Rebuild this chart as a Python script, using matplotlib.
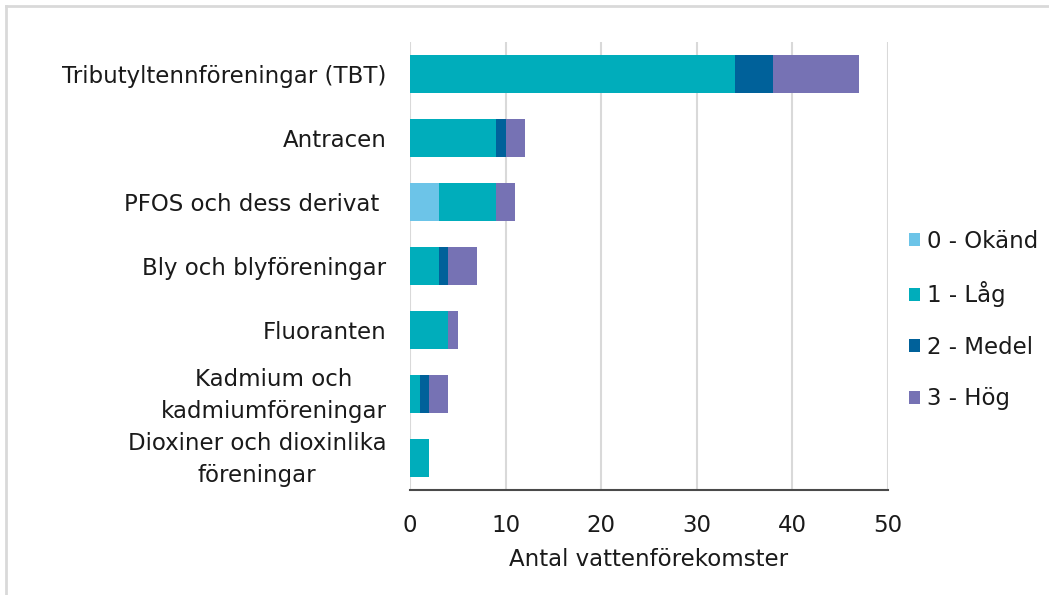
import matplotlib
matplotlib.use("Agg")
import matplotlib.pyplot as plt
import matplotlib.transforms as mtransforms
from matplotlib.lines import Line2D
import numpy as np

categories = [
    "Tributyltennföreningar (TBT)",
    "Antracen",
    "PFOS och dess derivat ",
    "Bly och blyföreningar",
    "Fluoranten",
    "Kadmium och\nkadmiumföreningar",
    "Dioxiner och dioxinlika\nföreningar",
]
series_names = ["0 - Okänd", "1 - Låg", "2 - Medel", "3 - Hög"]
okand = [0, 0, 3, 0, 0, 0, 0]
lag = [34, 9, 6, 3, 4, 1, 2]
medel = [4, 1, 0, 1, 0, 1, 0]
hog = [9, 2, 2, 3, 1, 2, 0]
colors = ["#6CC4E8", "#00ADBB", "#00619A", "#7672B4"]
xticks = [0, 10, 20, 30, 40, 50]
xlabel = "Antal vattenförekomster"

plt.rcParams["font.family"] = ["DejaVu Sans"]
FS = 16.5

fig = plt.figure(figsize=(10.49, 5.95), dpi=100)
ax = fig.add_axes([410 / 1049, 1 - 490 / 595, (888 - 410) / 1049, (490 - 42) / 595])

y = np.arange(len(categories))
left = np.zeros(len(categories))
for name, vals, c in zip(series_names, [okand, lag, medel, hog], colors):
    vals = np.array(vals, dtype=float)
    ax.barh(y, vals, left=left, height=0.59, color=c, label=name, zorder=3)
    left += vals

ax.set_ylim(len(categories) - 0.5, -0.5)
ax.set_xlim(0, 50)
ax.set_xticks(xticks)
ax.set_yticks(y)
ax.set_yticklabels(categories, fontsize=FS, color="#1a1a1a", multialignment="center",
                   linespacing=1.45)
ax.tick_params(axis="y", length=0, pad=17)
ax.tick_params(axis="x", length=0, pad=17, labelsize=FS, labelcolor="#1a1a1a")
ax.set_xlabel(xlabel, fontsize=FS, color="#1a1a1a", labelpad=8)
ax.grid(axis="x", color="#D9D9D9", linewidth=1.5, zorder=0)
ax.set_axisbelow(True)
for s in ["top", "right", "left"]:
    ax.spines[s].set_visible(False)
ax.spines["bottom"].set_color("#4a4a4a")
ax.spines["bottom"].set_linewidth(1.5)

# nudge two-line labels up slightly
shift = mtransforms.ScaledTranslation(0, 5 / 100, fig.dpi_scale_trans)
for lbl in ax.get_yticklabels():
    if "\n" in lbl.get_text():
        lbl.set_transform(lbl.get_transform() + shift)

leg = fig.legend(loc="center left", bbox_to_anchor=(909 / 1049, 1 - 320 / 595),
                 frameon=False, fontsize=FS, handlelength=0.5, handleheight=0.5,
                 handletextpad=0.3, labelspacing=1.25, borderaxespad=0, borderpad=0)
for t in leg.get_texts():
    t.set_color("#1a1a1a")

# figure frame lines (top and left)
fig.add_artist(Line2D([6 / 1049, 1.0], [1 - 6 / 595, 1 - 6 / 595], transform=fig.transFigure,
                      color="#D9D9D9", linewidth=2))
fig.add_artist(Line2D([6 / 1049, 6 / 1049], [0, 1 - 6 / 595], transform=fig.transFigure,
                      color="#D9D9D9", linewidth=2))

fig.savefig("out.png", dpi=100, facecolor="white")
